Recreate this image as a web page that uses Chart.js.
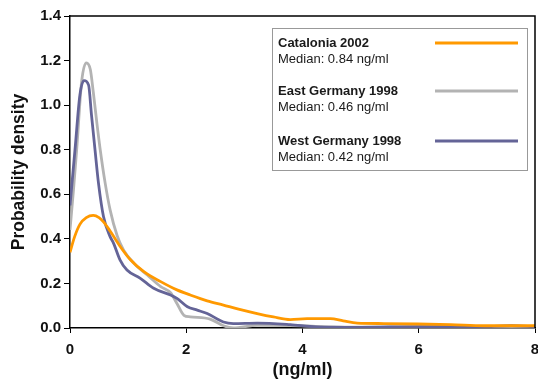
<!DOCTYPE html>
<html lang="en">
<head>
  <meta charset="UTF-8" />
  <title>Probability density (ng/ml)</title>
  <script src="https://cdn.jsdelivr.net/npm/chart.js"></script>
  <style>
    html, body { margin: 0; padding: 0; background: #fff; }
    #wrap { width: 538px; height: 379px; }
  </style>
</head>
<body>
  <div id="wrap"><canvas id="densityChart" width="538" height="379"></canvas></div>

  <script>
    // series names, medians and colours
    const seriesNames = ["Catalonia 2002", "East Germany 1998", "West Germany 1998"];
    const medians     = ["Median: 0.84 ng/ml", "Median: 0.46 ng/ml", "Median: 0.42 ng/ml"];
    const colors      = ["#ff9900", "#b3b3b3", "#646497"];

    // Catalonia 2002
    const catX = [0, 0.08, 0.17, 0.28, 0.4, 0.5, 0.58, 0.69, 0.86, 1.04, 1.27, 1.56, 1.84, 2.07, 2.36,
                  2.64, 2.9, 3.22, 3.5, 3.79, 4.08, 4.48, 4.7, 4.94, 5.4, 5.98, 6.55, 7.13, 8];
    const catY = [0.34, 0.41, 0.465, 0.495, 0.505, 0.495, 0.475, 0.435, 0.367, 0.306, 0.253, 0.208, 0.171, 0.148, 0.122,
                  0.103, 0.085, 0.065, 0.05, 0.038, 0.042, 0.042, 0.032, 0.022, 0.02, 0.018, 0.015, 0.01, 0.01];

    // East Germany 1998
    const eastX = [0, 0.06, 0.115, 0.2, 0.28, 0.35, 0.4, 0.46, 0.52, 0.605, 0.69, 0.81, 0.92, 1.1, 1.33,
                   1.56, 1.73, 1.84, 1.96, 2.07, 2.41, 2.64, 2.81, 3.22, 3.97, 4.5, 5, 6, 7, 8];
    const eastY = [0.44, 0.62, 0.80, 1.105, 1.19, 1.16, 1.06, 0.925, 0.80, 0.65, 0.53, 0.415, 0.35, 0.29, 0.238,
                   0.186, 0.158, 0.11, 0.057, 0.05, 0.04, 0.01, 0.0, 0.012, 0.01, 0.005, 0.004, 0.005, 0.005, 0.005];

    // West Germany 1998
    const westX = [0, 0.086, 0.17, 0.24, 0.32, 0.37, 0.43, 0.49, 0.576, 0.69, 0.75, 0.86, 0.98, 1.21, 1.44,
                   1.73, 1.84, 2.02, 2.19, 2.36, 2.64, 2.81, 3.22, 3.79, 4.24, 5, 6, 7, 7.6, 8];
    const westY = [0.55, 0.80, 1.045, 1.11, 1.09, 0.955, 0.80, 0.65, 0.50, 0.41, 0.38, 0.306, 0.26, 0.223, 0.178,
                   0.148, 0.133, 0.095, 0.08, 0.065, 0.027, 0.02, 0.022, 0.015, 0.005, 0.003, 0.006, 0.005, 0.01, 0.006];

    const toPoints = (xs, ys) => xs.map((x, i) => ({ x: x, y: ys[i] }));

    const FONT = "Liberation Sans, Arial, Helvetica, sans-serif";

    // box around the plot + the two-line legend in the upper right
    const framePlugin = {
      id: "frameAndLegend",
      afterDraw(chart) {
        const { ctx, chartArea: a } = chart;
        ctx.save();
        ctx.strokeStyle = "#000";
        ctx.lineWidth = 1.5;
        ctx.beginPath();
        ctx.moveTo(a.left, a.top);
        ctx.lineTo(a.right, a.top);
        ctx.lineTo(a.right, a.bottom);
        ctx.stroke();

        // legend box
        ctx.strokeStyle = "#999";
        ctx.lineWidth = 1;
        ctx.strokeRect(272.5, 28.5, 255, 142);

        const rowY = [43, 91, 141];
        ctx.textBaseline = "middle";
        ctx.textAlign = "left";
        seriesNames.forEach((name, i) => {
          ctx.fillStyle = "#1a1a1a";
          ctx.font = "bold 13px " + FONT;
          ctx.fillText(name, 278, rowY[i]);
          ctx.font = "13px " + FONT;
          ctx.fillText(medians[i], 278, rowY[i] + 16.5);
          ctx.strokeStyle = colors[i];
          ctx.lineWidth = 3;
          ctx.beginPath();
          ctx.moveTo(435, rowY[i]);
          ctx.lineTo(518, rowY[i]);
          ctx.stroke();
        });
        ctx.restore();
      }
    };

    const ctx = document.getElementById("densityChart").getContext("2d");
    new Chart(ctx, {
      type: "line",
      data: {
        datasets: [
          { label: seriesNames[0], data: toPoints(catX, catY),   borderColor: colors[0], order: 0 },
          { label: seriesNames[1], data: toPoints(eastX, eastY), borderColor: colors[1], order: 2 },
          { label: seriesNames[2], data: toPoints(westX, westY), borderColor: colors[2], order: 1 }
        ]
      },
      options: {
        responsive: false,
        animation: false,
        events: [],
        layout: { padding: { top: 16, right: 3, left: 0, bottom: 0 } },
        elements: {
          line: { borderWidth: 2.8, cubicInterpolationMode: "monotone", fill: false },
          point: { radius: 0 }
        },
        plugins: { legend: { display: false }, tooltip: { enabled: false } },
        scales: {
          x: {
            type: "linear",
            min: 0, max: 8,
            // let the last tick label ("8") hang past the plot edge
            afterFit: (s) => { s.height = 51; s.paddingRight = 0; s.paddingLeft = 0; },
            border: { color: "#000", width: 1.5 },
            grid: { drawOnChartArea: false, drawTicks: true, tickLength: 5, color: "#000", lineWidth: 1 },
            ticks: { stepSize: 2, padding: 8, color: "#111", font: { family: FONT, size: 15, weight: "bold" } },
            title: { display: true, text: "(ng/ml)", color: "#111", padding: { top: 0, bottom: 0 },
                     font: { family: FONT, size: 18, weight: "bold", lineHeight: 1 } }
          },
          y: {
            min: 0, max: 1.4,
            afterFit: (s) => { s.width = 70; },
            border: { color: "#000", width: 1.5 },
            grid: { drawOnChartArea: false, drawTicks: true, tickLength: 6, color: "#000", lineWidth: 1 },
            ticks: { stepSize: 0.2, padding: 3, color: "#111", font: { family: FONT, size: 15, weight: "bold" },
                     callback: (v) => v.toFixed(1) },
            title: { display: true, text: "Probability density", color: "#111", padding: { top: 10, bottom: 0 },
                     font: { family: FONT, size: 17.5, weight: "bold", lineHeight: 1 } }
          }
        }
      },
      plugins: [framePlugin]
    });
  </script>
</body>
</html>
